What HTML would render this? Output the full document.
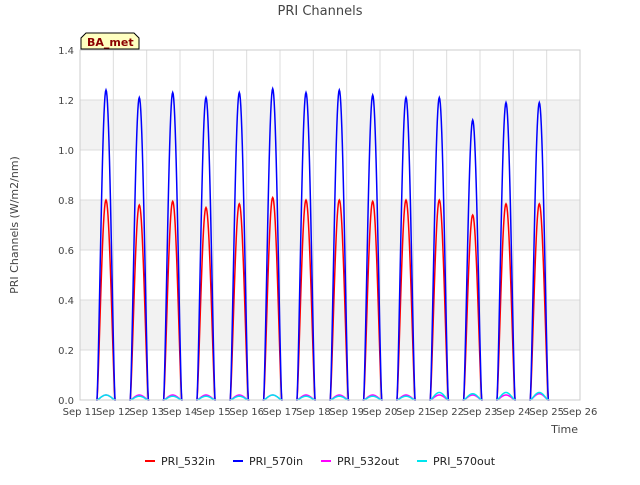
<!DOCTYPE html>
<html><head><meta charset="utf-8"><style>
body{margin:0;background:#fff;font-family:"Liberation Sans","DejaVu Sans",sans-serif;}
svg text{font-family:"DejaVu Sans","Liberation Sans",sans-serif;}
</style></head><body>
<svg id="chart" width="640" height="480">
<rect width="640" height="480" fill="#fff"/>
<text x="320" y="15" text-anchor="middle" font-size="13" fill="#444">PRI Channels</text>
<g id="bands"></g><g id="grid"></g><g id="series"></g><g id="axes"></g>
<text x="18" y="225" transform="rotate(-90 18 225)" text-anchor="middle" font-size="11" fill="#444">PRI Channels (W/m2/nm)</text>
<text x="578" y="433" text-anchor="end" font-size="11" fill="#444">Time</text>
<g>
<path d="M81,49 L81,38 L86,33 L134,33 L139,38 L139,49 Z" fill="#ffffc0" stroke="#000" stroke-width="1"/>
<text x="87" y="46" font-size="11" font-weight="bold" fill="#8b0000">BA_met</text></g>
<g id="legend"></g>
</svg>
<script>
const days=["Sep 11","Sep 12","Sep 13","Sep 14","Sep 15","Sep 16","Sep 17","Sep 18","Sep 19","Sep 20","Sep 21","Sep 22","Sep 23","Sep 24","Sep 25","Sep 26"];
const yTicks=[0,0.2,0.4,0.6,0.8,1.0,1.2,1.4];
const peak570in=[1.24,1.21,1.23,1.21,1.23,1.245,1.23,1.24,1.22,1.21,1.21,1.12,1.19,1.19];
const peak532in=[0.80,0.78,0.795,0.77,0.785,0.81,0.80,0.80,0.795,0.80,0.80,0.74,0.785,0.785];
const peak532out=[0.02,0.02,0.02,0.02,0.02,0.02,0.02,0.02,0.02,0.02,0.02,0.02,0.02,0.025];
const peak570out=[0.02,0.015,0.015,0.015,0.015,0.02,0.015,0.015,0.015,0.015,0.03,0.025,0.03,0.03];
const X0=80,X1=580,Y0=400,Y1=50;
const xs=d=>X0+d*(X1-X0)/15, ys=v=>Y0-v*(Y0-Y1)/1.4;
const NS="http://www.w3.org/2000/svg";
function mk(t,a,p){const e=document.createElementNS(NS,t);for(const k in a)e.setAttribute(k,a[k]);(p||document.getElementById('chart')).appendChild(e);return e;}
const bands=document.getElementById('bands'),grid=document.getElementById('grid'),axes=document.getElementById('axes'),series=document.getElementById('series'),legend=document.getElementById('legend');
for(let i=1;i<yTicks.length-1;i+=2){const b=mk('rect',{x:X0,y:ys(yTicks[i+1]),width:X1-X0,height:ys(yTicks[i])-ys(yTicks[i+1]),fill:'#f2f2f2'},bands);

}
yTicks.forEach(v=>{const l=mk('line',{x1:X0,x2:X1,y1:ys(v),y2:ys(v),stroke:'#dcdcdc'},grid);


const t=mk('text',{x:X0-6,y:ys(v)+4,'text-anchor':'end','font-size':'10',fill:'#444'},axes);t.textContent=v.toFixed(1);

});
days.forEach((d,i)=>{const l=mk('line',{x1:xs(i),x2:xs(i),y1:Y1,y2:Y0,stroke:'#dcdcdc'},grid);


const t=mk('text',{x:xs(i),y:Y0+15,'text-anchor':'middle','font-size':'10',fill:'#444'},axes);t.textContent=d;

});
mk('rect',{x:X0,y:Y1,width:X1-X0,height:Y0-Y1,fill:'none',stroke:'#ccc'},axes);
function curve(peaks,color,w){let d='';peaks.forEach((p,i)=>{const c=i+0.78;d+=`M${xs(c-0.3)},${ys(0)}`;
for(let k=0;k<=40;k++){const t=k/40,v=t<0.05||t>0.95?0:p*Math.pow(Math.sin(Math.PI*(t-0.05)/0.9),1.3);d+=`L${xs(c-0.3+0.6*t).toFixed(1)},${ys(v).toFixed(1)}`;}});
return mk('path',{d:d,fill:'none',stroke:color,'stroke-width':w},series);}
const s1=curve(peak532in,'#ff0000',1.5);


const s2=curve(peak570in,'#0000ff',1.5);


const s3=curve(peak532out,'#ff00ff',1.5);


const s4=curve(peak570out,'#00e5ee',1.5);


const leg=[["PRI_532in","#ff0000",145],["PRI_570in","#0000ff",233],["PRI_532out","#ff00ff",321],["PRI_570out","#00e5ee",417]];
leg.forEach(l=>{const g=mk('g',{},legend);


mk('line',{x1:l[2],x2:l[2]+10,y1:461,y2:461,stroke:l[1],'stroke-width':2},g);
const t=mk('text',{x:l[2]+16,y:465,'font-size':'11',fill:'#222'},g);t.textContent=l[0];});
</script>
</body></html>
